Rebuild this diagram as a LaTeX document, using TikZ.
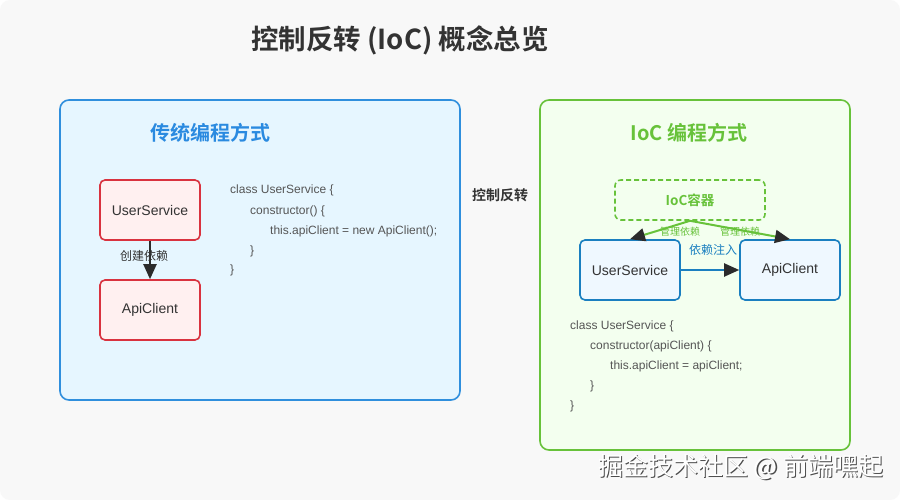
\documentclass[tikz,border=0pt]{standalone}
\usepackage{fontspec}
\setmainfont{Liberation Sans}
\newfontfamily\cjk{Noto Sans CJK SC}[BoldFont={Noto Sans CJK SC Bold}]
\usetikzlibrary{arrows.meta}
\definecolor{bgc}{HTML}{F8F8F8}
\definecolor{txt}{HTML}{333333}
\definecolor{codec}{HTML}{555555}
\definecolor{bluebd}{HTML}{2F8FDD}
\definecolor{bluefill}{HTML}{E6F6FF}
\definecolor{bluehead}{HTML}{2A8AE0}
\definecolor{greenbd}{HTML}{67C23A}
\definecolor{greenfill}{HTML}{F3FFEF}
\definecolor{redbd}{HTML}{D9323F}
\definecolor{redfill}{HTML}{FFF0F0}
\definecolor{svcbd}{HTML}{1A7FC0}
\definecolor{svcfill}{HTML}{EFF8FF}
\definecolor{arrowc}{HTML}{2B2B2B}
\tikzset{
  panel/.style={rounded corners=9pt, line width=1.6pt},
  redbox/.style={draw=redbd, fill=redfill, line width=1.6pt, rounded corners=5pt, minimum width=100pt, minimum height=60pt, text=txt, font=\fontsize{14}{16}\selectfont},
  svcbox/.style={draw=svcbd, fill=svcfill, line width=1.6pt, rounded corners=5pt, minimum width=100pt, minimum height=60pt, text=txt, font=\fontsize{14}{16}\selectfont},
  codeline/.style={anchor=west, text=codec, font=\fontsize{12}{14}\selectfont, inner sep=0pt},
  tip/.style={-{Triangle[length=15pt,width=13pt,color=arrowc]}},
}
\begin{document}
\begin{tikzpicture}[x=1pt,y=-1pt]
\useasboundingbox (0,0) rectangle (900,500);
\fill[white] (0,0) rectangle (900,500);
\fill[bgc, rounded corners=10pt] (0,0) rectangle (900,500);

% title
\node[text=txt, font=\cjk\bfseries\fontsize{27.5}{32}\selectfont] (title) at (400,40) {控制反转 (IoC) 概念总览};

% panels
\draw[panel, draw=bluebd, fill=bluefill] (60,100) rectangle (460,400);
\draw[panel, draw=greenbd, fill=greenfill] (540,100) rectangle (850,450);

\node[text=bluehead, font=\cjk\bfseries\fontsize{20}{24}\selectfont] (lhead) at (210,133) {传统编程方式};
\node[text=greenbd, font=\cjk\bfseries\fontsize{20}{24}\selectfont] (rhead) at (689,133) {IoC 编程方式};

\node[text=txt, font=\cjk\bfseries\fontsize{14}{16}\selectfont] (mid) at (500,195) {控制反转};

% left diagram
\node[redbox] (us1) at (150,210) {UserService};
\node[redbox] (api1) at (150,310) {ApiClient};
\draw[tip, draw=arrowc, line width=2pt] (us1.south) -- (api1.north);
\node[text=txt, font=\cjk\fontsize{12}{14}\selectfont] (lbl1) at (144,256) {创建依赖};

% left code
\node[codeline] (c1) at (230,190) {class UserService \{};
\node[codeline] (c2) at (250,211) {constructor() \{};
\node[codeline] (c3) at (270,231) {this.apiClient = new ApiClient();};
\node[codeline] (c4) at (250,251) {\}};
\node[codeline] (c5) at (230,270) {\}};

% right diagram
\node[draw=greenbd, dashed, dash pattern=on 5pt off 3pt, line width=1.6pt, rounded corners=6pt, minimum width=150pt, minimum height=40pt, text=greenbd, font=\cjk\bfseries\fontsize{13.5}{16}\selectfont] (ioc) at (690,200) {IoC容器};
\node[svcbox] (us2) at (630,270) {UserService};
\node[svcbox] (api2) at (790,270) {ApiClient};

\draw[tip, draw=greenbd, line width=2pt] (ioc.south) -- (us2.north);
\draw[tip, draw=greenbd, line width=2pt] (ioc.south) -- (api2.north);
\draw[tip, draw=svcbd, line width=2pt] (us2.east) -- (api2.west);

\node[text=greenbd, font=\cjk\fontsize{10}{12}\selectfont] (m1) at (680,232) {管理依赖};
\node[text=greenbd, font=\cjk\fontsize{10}{12}\selectfont] (m2) at (740,232) {管理依赖};
\node[text=svcbd, font=\cjk\fontsize{12}{14}\selectfont] (inj) at (713,250) {依赖注入};

% right code
\node[codeline] (d1) at (570,326) {class UserService \{};
\node[codeline] (d2) at (590,346) {constructor(apiClient) \{};
\node[codeline] (d3) at (610,366) {this.apiClient = apiClient;};
\node[codeline] (d4) at (590,386) {\}};
\node[codeline] (d5) at (570,406) {\}};

% watermark
\node[text=gray!60!black, font=\cjk\fontsize{25}{30}\selectfont, anchor=west, inner sep=0pt] (wms) at (599.3,468.3) {掘金技术社区 @ 前端嘿起};
\node[text=white, font=\cjk\fontsize{25}{30}\selectfont, anchor=west, inner sep=0pt] (wm) at (598,467) {掘金技术社区 @ 前端嘿起};
\end{tikzpicture}
\end{document}
